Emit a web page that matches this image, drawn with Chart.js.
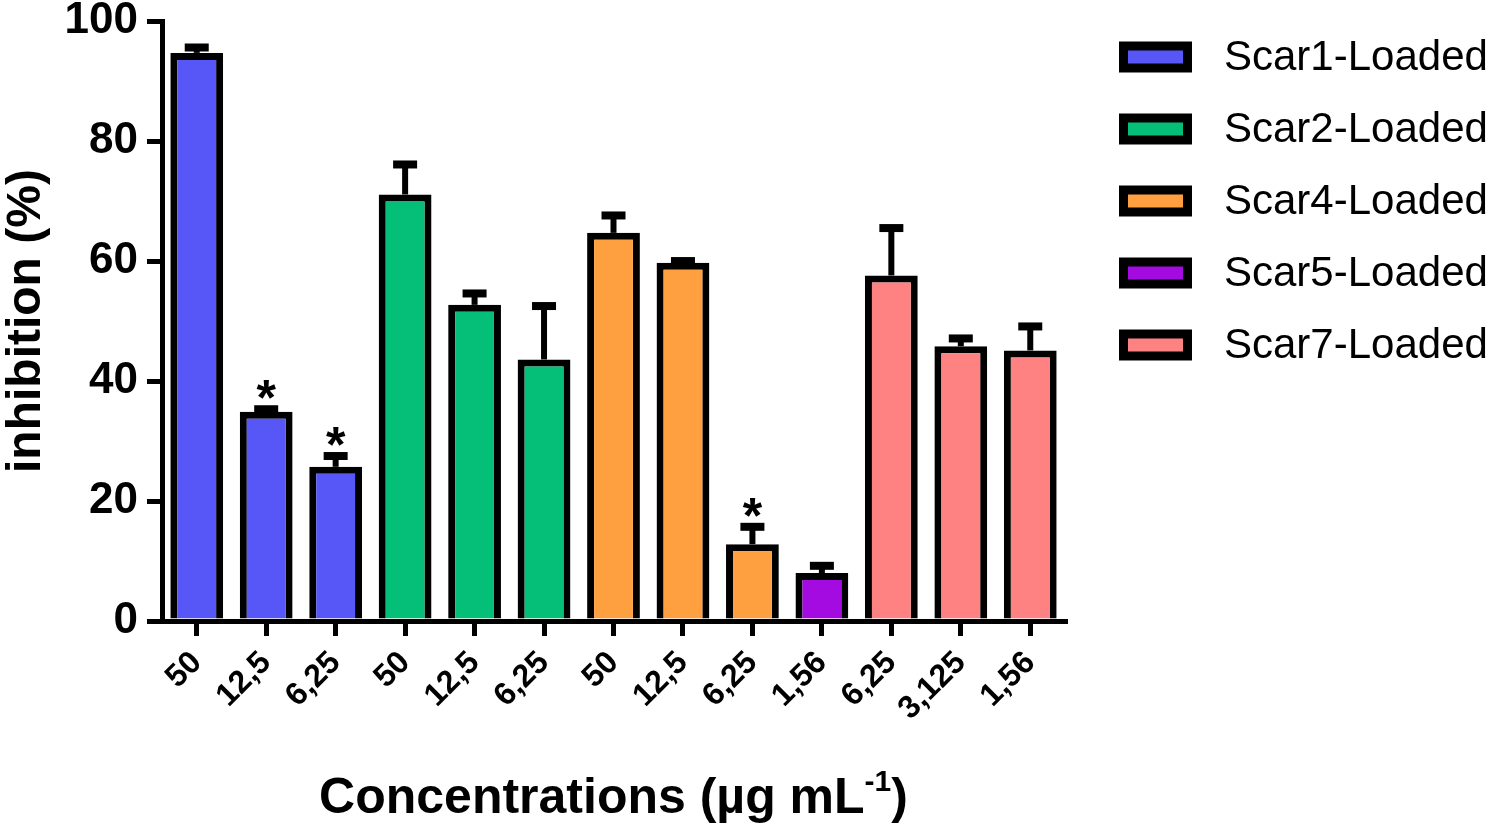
<!DOCTYPE html>
<html lang="en">
<head>
    <meta charset="UTF-8">
    <title>Inhibition by concentration</title>
    <style>
        body {
            margin: 0;
            background-color: #ffffff;
        }
        .chart-container {
            width: 1494px;
            height: 826px;
        }
    </style>
</head>
<body>
    <div class="chart-container">
        <canvas id="inhibitionChart"></canvas>
    </div>

    <script src="https://cdn.jsdelivr.net/npm/chart.js"></script>
    <script>
        // Data
        const labels = ['50', '12,5', '6,25', '50', '12,5', '6,25', '50', '12,5', '6,25', '1,56', '6,25', '3,125', '1,56'];
        const seriesNames = ['Scar1-Loaded', 'Scar2-Loaded', 'Scar4-Loaded', 'Scar5-Loaded', 'Scar7-Loaded'];
        const seriesColors = ['#5757F8', '#05BE78', '#FEA040', '#A40BE0', '#FF8282'];
        const barSeries = [0, 0, 0, 1, 1, 1, 2, 2, 2, 3, 4, 4, 4];
        const means = [94.7, 34.9, 25.7, 71.1, 52.7, 43.6, 64.7, 59.7, 12.8, 8.0, 57.6, 45.8, 45.1];
        const sds = [0.9, 0.4, 1.8, 5.0, 1.9, 8.9, 2.9, 0.3, 2.9, 1.2, 7.9, 1.3, 4.0];
        const stars = ['', '*', '*', '', '', '', '', '', '*', '', '', '', ''];
        const yTicks = [0, 20, 40, 60, 80, 100];

        const FONT = '"Liberation Sans", Arial, sans-serif';

        // one dataset per series, null where the bar belongs to another series
        const datasets = seriesNames.map((name, s) => ({
            label: name,
            data: means.map((v, i) => barSeries[i] === s ? v : null),
            backgroundColor: seriesColors[s],
            borderColor: '#000',
            borderWidth: 7,
            grouped: false,
            barPercentage: 0.76,
            categoryPercentage: 1.0
        }));

        // upper error bars and significance stars
        const errorBars = {
            id: 'errorBars',
            afterDatasetsDraw(chart) {
                const ctx = chart.ctx;
                const y = chart.scales.y;
                ctx.save();
                ctx.strokeStyle = '#000';
                ctx.fillStyle = '#000';
                chart.data.datasets.forEach((ds, d) => {
                    chart.getDatasetMeta(d).data.forEach((bar, i) => {
                        if (ds.data[i] == null) return;
                        const top = y.getPixelForValue(means[i] + sds[i]);
                        ctx.lineWidth = 6;
                        ctx.beginPath();
                        ctx.moveTo(bar.x, bar.y);
                        ctx.lineTo(bar.x, top);
                        ctx.stroke();
                        ctx.lineWidth = 8;
                        ctx.beginPath();
                        ctx.moveTo(bar.x - 12, top);
                        ctx.lineTo(bar.x + 12, top);
                        ctx.stroke();
                        if (stars[i]) {
                            ctx.font = 'bold 50px ' + FONT;
                            ctx.textAlign = 'center';
                            ctx.textBaseline = 'alphabetic';
                            ctx.fillText(stars[i], bar.x, top + 6);
                        }
                    });
                });
                ctx.restore();
            }
        };

        // legend on the right and x title with superscript
        const extras = {
            id: 'extras',
            afterDraw(chart) {
                const ctx = chart.ctx;
                const area = chart.chartArea;
                ctx.save();
                seriesNames.forEach((name, s) => {
                    const cy = 57 + s * 72;
                    ctx.fillStyle = seriesColors[s];
                    ctx.fillRect(1123, cy - 11, 65, 22);
                    ctx.lineWidth = 9;
                    ctx.strokeStyle = '#000';
                    ctx.strokeRect(1123.5, cy - 11, 64, 22);
                    ctx.fillStyle = '#000';
                    ctx.font = '42px ' + FONT;
                    ctx.textAlign = 'left';
                    ctx.textBaseline = 'middle';
                    ctx.fillText(name, 1224, cy + 1);
                });

                const main = 'Concentrations (µg mL';
                const sup = '-1';
                const close = ')';
                const bigFont = 'bold 50px ' + FONT;
                const supFont = 'bold 30px ' + FONT;
                ctx.font = bigFont;
                const wMain = ctx.measureText(main).width;
                const wClose = ctx.measureText(close).width;
                ctx.font = supFont;
                const wSup = ctx.measureText(sup).width;
                let x = (area.left + area.right) / 2 - (wMain + wSup + wClose) / 2;
                const base = 813;
                ctx.textAlign = 'left';
                ctx.textBaseline = 'alphabetic';
                ctx.fillStyle = '#000';
                ctx.font = bigFont;
                ctx.fillText(main, x, base);
                x += wMain;
                ctx.font = supFont;
                ctx.fillText(sup, x, base - 22);
                x += wSup;
                ctx.font = bigFont;
                ctx.fillText(close, x, base);
                ctx.restore();
            }
        };

        const ctxChart = document.getElementById('inhibitionChart').getContext('2d');
        new Chart(ctxChart, {
            type: 'bar',
            data: { labels: labels, datasets: datasets },
            options: {
                responsive: true,
                maintainAspectRatio: false,
                animation: false,
                layout: { padding: { top: 0, right: 429, bottom: 0, left: 0 } },
                plugins: {
                    legend: { display: false },
                    tooltip: { enabled: false }
                },
                scales: {
                    x: {
                        offset: true,
                        grid: {
                            offset: false,
                            drawOnChartArea: false,
                            color: '#000',
                            lineWidth: 5,
                            tickLength: 15,
                            tickWidth: 5
                        },
                        border: { display: true, color: '#000', width: 5 },
                        ticks: {
                            color: '#000',
                            font: { family: FONT, size: 32, weight: 'bold' },
                            minRotation: 45,
                            maxRotation: 45,
                            padding: 8
                        },
                        afterFit(scale) { scale.height = 205; }
                    },
                    y: {
                        min: 0,
                        max: 100,
                        afterBuildTicks(scale) { scale.ticks = yTicks.map(v => ({ value: v })); },
                        grid: {
                            drawOnChartArea: false,
                            color: '#000',
                            lineWidth: 5,
                            tickLength: 15,
                            tickWidth: 5
                        },
                        border: { display: true, color: '#000', width: 5 },
                        ticks: {
                            color: '#000',
                            font: { family: FONT, size: 44, weight: 'bold', lineHeight: 0.55 },
                            padding: 9
                        },
                        title: {
                            display: true,
                            text: 'inhibition (%)',
                            color: '#000',
                            font: { family: FONT, size: 48, weight: 'bold', lineHeight: 1.1 },
                            padding: 0
                        },
                        afterFit(scale) { scale.width = 162; }
                    }
                }
            },
            plugins: [errorBars, extras]
        });
    </script>
</body>
</html>
